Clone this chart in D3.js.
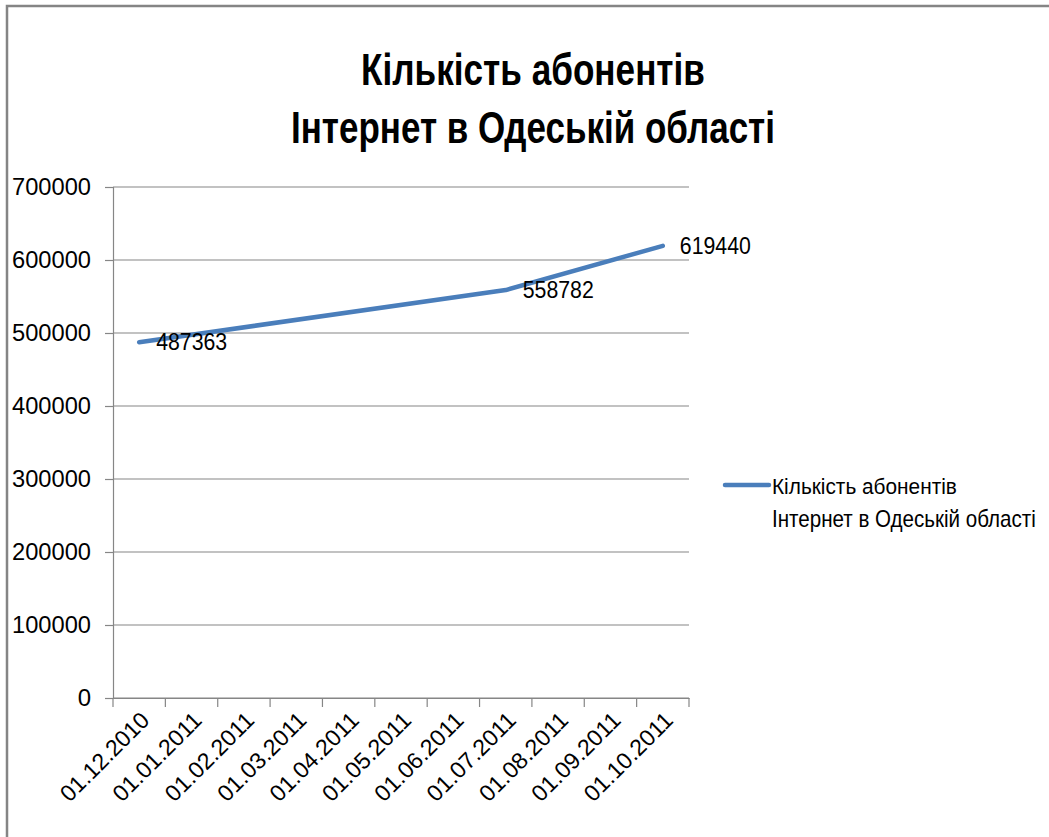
<!DOCTYPE html>
<html>
<head>
<meta charset="utf-8">
<script src="https://cdn.jsdelivr.net/npm/d3@7"></script>
<style>
  html, body { margin: 0; padding: 0; background: #fff; }
  svg { display: block; }
  text { font-family: "Liberation Sans", Arial, sans-serif; fill: #000; }
</style>
</head>
<body>
<svg id="chart" width="1049" height="837"></svg>
<script>
// ---- data ----
const titleLines = ["Кількість абонентів", "Інтернет в Одеській області"];
const categories = ["01.12.2010", "01.01.2011", "01.02.2011", "01.03.2011", "01.04.2011",
                    "01.05.2011", "01.06.2011", "01.07.2011", "01.08.2011", "01.09.2011", "01.10.2011"];
const values = [487363, null, null, null, null, null, null, 558782, null, null, 619440];
const yTicks = [0, 100000, 200000, 300000, 400000, 500000, 600000, 700000];
const legendLines = ["Кількість абонентів", "Інтернет в Одеській області"];

// ---- layout ----
const svg = d3.select("#chart");
const W = 1049, H = 837;
const plot = { left: 113, right: 689, top: 187, bottom: 698 };
const gridColor = "#868686";
const lineColor = "#4A7EBB";

// horizontally condense a text (placed at x=0) to a target width, via transform
function condense(textSel, tx, ty, target, anchor) {
  textSel.each(function () {
    const n = this.getComputedTextLength();
    const s = Math.min(1, target / n);
    d3.select(this).attr("transform", `translate(${tx},${ty}) scale(${s},1)`);
  });
}

// chart border (left + top)
svg.append("path")
  .attr("d", `M7,${H} L7,6 L${W},6`)
  .attr("fill", "none").attr("stroke", "#858585").attr("stroke-width", 2.5);

// title
svg.append("g").selectAll("text").data(titleLines).join("text")
  .attr("text-anchor", "middle")
  .attr("font-weight", "bold")
  .attr("font-size", 45)
  .text(d => d)
  .each(function (d, i) {
    condense(d3.select(this), 533, i === 0 ? 85 : 143, i === 0 ? 344 : 484);
  });

// scales
const x = d3.scaleBand().domain(categories).range([plot.left, plot.right]);
const y = d3.scaleLinear().domain([0, 700000]).range([plot.bottom, plot.top]);

// gridlines
svg.append("g").selectAll("line").data(yTicks).join("line")
  .attr("x1", plot.left).attr("x2", plot.right)
  .attr("y1", d => y(d)).attr("y2", d => y(d))
  .attr("stroke", gridColor).attr("stroke-width", 1.2);

// y axis
const yAxis = svg.append("g")
  .attr("transform", `translate(${plot.left},0)`)
  .call(d3.axisLeft(y).tickValues(yTicks).tickSize(8).tickPadding(14).tickFormat(d3.format("d")));
yAxis.select(".domain").attr("stroke", gridColor).attr("stroke-width", 1.2);
yAxis.selectAll(".tick line").attr("stroke", gridColor).attr("stroke-width", 1.2);
yAxis.selectAll(".tick text")
  .attr("font-family", "Liberation Sans, Arial, sans-serif")
  .attr("font-size", 24).attr("fill", "#000")
  .attr("textLength", 79).attr("lengthAdjust", "spacingAndGlyphs");
yAxis.selectAll(".tick text").filter(d => d === 0).attr("textLength", null);

// x axis: labels at band centres
const xAxis = svg.append("g")
  .attr("transform", `translate(0,${plot.bottom})`)
  .call(d3.axisBottom(x).tickSize(0).tickPadding(0));
xAxis.select(".domain").attr("stroke", gridColor).attr("stroke-width", 1.2);
xAxis.selectAll(".tick text")
  .attr("font-family", "Liberation Sans, Arial, sans-serif")
  .attr("font-size", 23).attr("fill", "#000")
  .attr("text-anchor", "end")
  .attr("transform", "translate(6,18) rotate(-45)")
  .attr("dy", "0.35em").attr("y", 0).attr("x", 0)
  .attr("textLength", 115).attr("lengthAdjust", "spacingAndGlyphs");

// x axis boundary ticks
const bounds = categories.map(c => x(c)).concat([x.range()[1]]);
svg.append("g").selectAll("line").data(bounds).join("line")
  .attr("x1", d => d).attr("x2", d => d)
  .attr("y1", plot.bottom).attr("y2", plot.bottom + 9)
  .attr("stroke", gridColor).attr("stroke-width", 1.2);

// series line (gaps connected)
const pts = categories.map((c, i) => ({ c, v: values[i] })).filter(d => d.v != null);
const line = d3.line()
  .x(d => x(d.c) + x.bandwidth() / 2)
  .y(d => y(d.v));
svg.append("path")
  .datum(pts)
  .attr("d", line)
  .attr("fill", "none")
  .attr("stroke", lineColor)
  .attr("stroke-width", 4.5)
  .attr("stroke-linecap", "round")
  .attr("stroke-linejoin", "round");

// data labels
svg.append("g").selectAll("text").data(pts).join("text")
  .attr("x", d => x(d.c) + x.bandwidth() / 2 + 17)
  .attr("y", d => y(d.v))
  .attr("dy", "0.35em")
  .attr("font-size", 23)
  .attr("textLength", 71).attr("lengthAdjust", "spacingAndGlyphs")
  .text(d => d.v);

// legend
const lg = svg.append("g");
lg.append("line")
  .attr("x1", 725).attr("x2", 769).attr("y1", 485).attr("y2", 485)
  .attr("stroke", lineColor).attr("stroke-width", 4.5).attr("stroke-linecap", "round");
lg.selectAll("text").data(legendLines).join("text")
  .attr("font-size", 23)
  .text(d => d)
  .each(function (d, i) {
    condense(d3.select(this), 772, 494 + i * 33, i === 0 ? 185 : 264);
  });
</script>
</body>
</html>
